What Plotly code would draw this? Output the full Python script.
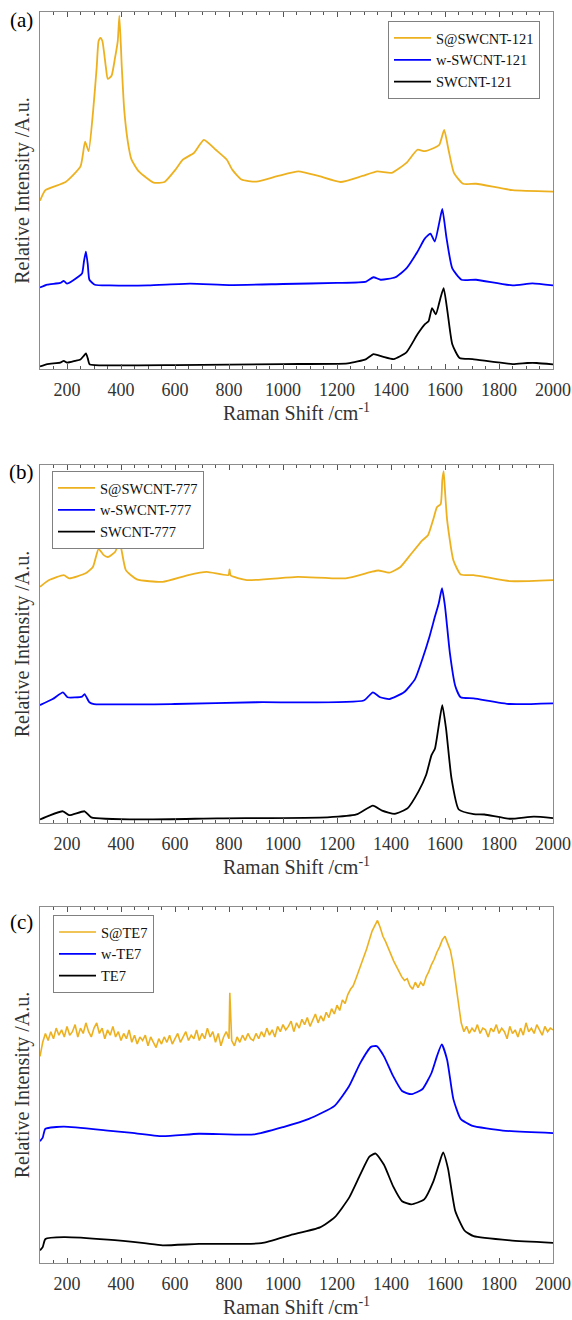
import plotly.graph_objects as go

# ---------------- data (relative intensity, % of panel height) ----------------
# Panel (a)
xa_s = [100,120,195,250,267,280,297,310,317,324,331,344,351,365,378,388,394,403,412,426,439,466,521,561,602,629,670,707,751,792,812,846,901,982,1057,1131,1213,1294,1349,1403,1457,1498,1525,1559,1579,1597,1613,1633,1667,1715,1850,2000]
ya_s = [47,50,52.3,56.7,63.7,61,72.6,84.7,92.1,93,92.1,84.7,81.4,82.3,87.4,92.1,99.3,84.7,72.6,63.3,58.6,55.3,52.1,52.3,55.8,58.6,60.5,64.2,61.4,58.6,55.8,53,52.4,54,55.3,54,52.3,54,55.3,54.9,57.7,61.4,61,61.9,62.8,67,61.4,54.9,51.8,51.8,50,49.6]
xa_w = [100,127,175,188,200,243,256,263,270,277,283,303,358,500,656,800,1000,1200,1308,1335,1362,1416,1457,1498,1525,1546,1562,1579,1590,1606,1627,1661,1715,1850,1924,2000]
ya_w = [22.5,23.3,23.8,24.4,23.6,25.6,26.5,30,32.6,29,24.7,23.3,23.1,23.1,23.6,23.2,23.5,23.8,24.2,25.4,24.7,25.4,27.9,32.6,36.3,37.7,35.5,40.9,44.7,36.3,27.9,24.7,24.7,23.1,23.7,23.1]
xa_p = [100,127,175,188,200,230,250,263,270,277,283,303,600,1000,1240,1308,1335,1369,1410,1457,1498,1525,1539,1552,1566,1583,1595,1609,1627,1654,1702,1850,1905,1940,2000]
ya_p = [0.2,0.9,1.3,1.8,1.3,1.8,2.2,3.3,3.9,2.5,0.9,0.6,0.6,0.9,1.1,2.3,3.7,3,2.3,4.2,9.3,12.1,13,16.7,14.9,19.5,22.3,15.8,6.5,2.6,2.3,0.9,1.2,1.2,0.8]

# Panel (b)
xb_s = [100,134,188,208,269,296,317,335,351,378,395,418,459,554,649,717,798,802,806,866,1055,1232,1326,1353,1394,1435,1475,1516,1537,1557,1570,1584,1590,1595,1600,1608,1631,1658,1706,1746,1840,2000]
yb_s = [66,67.9,69.3,68.4,69.8,71.6,76.7,75,74.4,75.8,78.6,70.7,68.1,67.4,69.3,70.2,69.3,70.9,69.2,67.9,68.8,68.4,70.2,70.6,70,71.6,75.3,79.1,80.5,85.1,88.4,89.3,96,98.6,93,84.7,73.5,69.5,69.3,68.8,67.6,67.9]
xb_w = [100,147,185,202,256,265,283,300,600,900,1299,1333,1360,1394,1448,1489,1516,1543,1563,1577,1589,1600,1618,1638,1658,1706,1841,2000]
yb_w = [32.7,34.4,36.3,34.9,35.1,35.8,33.5,33,33,33.5,34,36.3,34.9,34.4,36.3,40,45.6,52.1,57.7,61.4,65.6,60.5,47.4,38.1,34.9,34.6,33,33.2]
xb_p = [100,134,185,208,265,290,486,757,1164,1272,1333,1367,1414,1462,1502,1530,1550,1563,1577,1590,1604,1624,1651,1706,1746,1841,1929,2000]
yb_p = [0.5,1.6,2.8,1.7,2.8,1.1,0.5,0.8,1.1,1.9,4.4,3,2.1,3.7,8.4,13,18.6,20.5,27,32.7,26,12.1,3.3,2,1.9,0.7,1.3,0.9]

# Panel (c)
xc_s = list(range(100, 801, 10)) + [803] + list(range(810, 2001, 10))
yc_s = [58, 62, 64.5, 62.5, 65, 63, 66, 64, 65.5, 63.5,
        66.5, 64, 65, 67, 63.5, 66, 64.5, 67.5, 65, 63.5,
        66, 67.5, 64.5, 66, 63, 65.5, 64, 66.5, 63.5, 65,
        62.5, 64.5, 63, 65.5, 62, 64, 61.5, 63.5, 62.5, 64,
        61, 63.5, 62, 60.5, 63, 61.5, 63.5, 62, 64, 61.5,
        63, 64.5, 62, 63.5, 65, 62.5, 64, 63, 65.5, 62.5,
        64.5, 63, 66, 63.5, 65, 62, 64.5, 61, 63.5, 65,
        63, 76,
        62.5, 61, 63.5, 62, 64, 62.5, 64.5, 63, 62.5,
        64.5, 63, 65, 63.5, 66, 64, 65.5, 63.5, 66.5, 65,
        67, 65.5, 66.5, 68, 65, 67.5, 66, 68.5, 67, 69,
        66.5, 68.5, 70, 67.5, 69.5, 68, 70.5, 69, 71.5, 70,
        72.5, 71, 74, 73, 75.5, 77, 78, 80, 82, 84,
        86, 88.5, 91, 93.5, 95, 96.5, 94.5, 92, 90.5, 88.5,
        86.5, 85, 83.5, 82, 80.5, 79.5, 80, 78, 77, 79,
        77.5, 79, 78, 80.5, 82, 84, 85.5, 87.5, 89, 91,
        92, 90, 88, 84, 78, 72, 67.5, 65, 66.5, 64.5,
        66, 65, 67, 64.5, 66, 65.5, 63.5, 66, 65, 67,
        64.5, 66, 65, 63, 66.5, 64.5, 65.5, 63.5, 66, 64,
        67.5, 65, 66, 64.5, 67, 65.5, 64, 66.5, 65, 66,
        65.5]
xc_w = [100,110,120,188,351,432,554,689,893,1001,1096,1191,1245,1286,1326,1347,1374,1408,1441,1475,1516,1550,1570,1588,1608,1631,1658,1699,1814,2000]
yc_w = [34,35,37.5,38.1,37,36.4,35.4,36.1,35.9,38,40.3,44,49.6,56.1,60.7,60.9,58,52.4,48.2,47.3,48.7,53.3,58,61.4,57,45.9,40.3,38.4,37,36.3]
xc_p = [100,110,120,188,351,486,554,689,920,1028,1137,1191,1245,1286,1320,1343,1374,1408,1441,1475,1523,1557,1577,1593,1611,1638,1672,1706,1841,2000]
yc_p = [3.1,4,6.3,6.8,6.1,5.1,4.5,4.9,5.1,7.4,9.6,12.4,18,24.5,29.6,30.5,27.3,21.2,17,16.1,17.5,22.6,27.3,30.8,26.3,14.2,8.7,7.1,5.9,5.2]

names_a = ["S@SWCNT-121", "w-SWCNT-121", "SWCNT-121"]
names_b = ["S@SWCNT-777", "w-SWCNT-777", "SWCNT-777"]
names_c = ["S@TE7", "w-TE7", "TE7"]
colors = ["#EDB120", "#0000FF", "#000000"]
panel_labels = ["(a)", "(b)", "(c)"]
x_ticks = [200, 400, 600, 800, 1000, 1200, 1400, 1600, 1800, 2000]

FONT = "Liberation Serif"

fig = go.Figure()
panels = [
    (names_a, [(xa_s, ya_s), (xa_w, ya_w), (xa_p, ya_p)], "x", "y", "legend"),
    (names_b, [(xb_s, yb_s), (xb_w, yb_w), (xb_p, yb_p)], "x2", "y2", "legend2"),
    (names_c, [(xc_s, yc_s), (xc_w, yc_w), (xc_p, yc_p)], "x3", "y3", "legend3"),
]
for names, series, xa, ya, lg in panels:
    for i, (name, (xs, ys)) in enumerate(zip(names, series)):
        noisy = (lg == "legend3" and i == 0)
        fig.add_trace(go.Scatter(
            x=xs, y=ys, name=name, mode="lines",
            line=dict(color=colors[i], width=1.8 if not noisy else 1.6,
                      shape="linear" if noisy else "spline",
                      smoothing=0.5),
            xaxis=xa, yaxis=ya, legend=lg,
        ))

# geometry (pixels -> paper)
W, H = 572, 1320
ml, mr, mt, mb = 40, 19, 12, 57
ph = H - mt - mb
pw = W - ml - mr

def py(p):
    return 1 - (p - mt) / ph

def px(p):
    return (p - ml) / pw

domains = [(py(369), 1.0), (py(823), py(465)), (0.0, py(907))]

axis_common = dict(
    range=[100, 2000], tickmode="array", tickvals=x_ticks,
    ticks="inside", ticklen=5, tickwidth=1, tickcolor="#555",
    showline=True, linecolor="#8c8c8c", linewidth=1, mirror="ticks",
    showgrid=False, zeroline=False, ticklabeloverflow="allow", ticklabelstandoff=4,
    tickfont=dict(family=FONT, size=18, color="#333"),
    minor=dict(ticks="inside", dtick=50, ticklen=3, tickcolor="#555", showgrid=False),
    title=dict(text="Raman Shift /cm<sup>-1</sup>", font=dict(family=FONT, size=20, color="#333"), standoff=2),
)
yaxis_common = dict(
    range=[-0.5, 100.3], showticklabels=False, ticks="",
    showline=True, linecolor="#8c8c8c", linewidth=1, mirror=True,
    showgrid=False, zeroline=False,
    title=dict(text="Relative Intensity /A.u.", font=dict(family=FONT, size=20, color="#333"), standoff=4),
)

layout = dict(
    width=W, height=H, margin=dict(l=ml, r=mr, t=mt, b=mb),
    paper_bgcolor="white", plot_bgcolor="white",
    font=dict(family=FONT, color="#222"),
)
for k, (d0, d1) in enumerate(domains):
    sfx = "" if k == 0 else str(k + 1)
    layout["xaxis" + sfx] = dict(axis_common, domain=[0, 1], anchor="y" + sfx, automargin=False)
    layout["yaxis" + sfx] = dict(yaxis_common, domain=[d0, d1], anchor="x" + sfx, automargin=False)

legend_common = dict(
    bgcolor="white", bordercolor="#808080", borderwidth=1,
    font=dict(family=FONT, size=14.5, color="#111"),
    yanchor="top", tracegroupgap=0, itemwidth=37,
)
layout["legend"] = dict(legend_common, x=px(540), y=py(21), xanchor="right")
layout["legend2"] = dict(legend_common, x=px(52), y=py(471), xanchor="left")
layout["legend3"] = dict(legend_common, x=px(53), y=py(915), xanchor="left")

fig.update_layout(**layout)

label_y = [20, 472, 922]
for lab, yy in zip(panel_labels, label_y):
    fig.add_annotation(text=lab, xref="paper", yref="paper", x=px(21), y=py(yy),
                       xanchor="center", yanchor="middle", showarrow=False,
                       font=dict(family=FONT, size=21, color="#000"))

fig.write_html("out.html", config={"displayModeBar": False},
               post_script="document.body.style.margin='0';document.body.style.overflow='hidden';")
